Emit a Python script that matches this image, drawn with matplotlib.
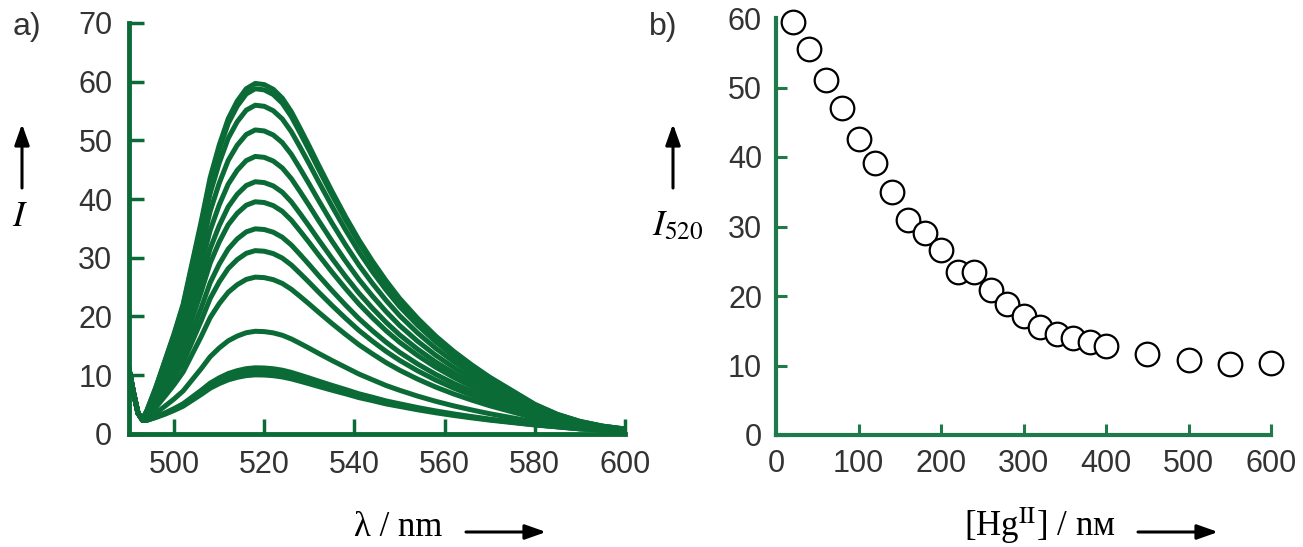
import numpy as np
import matplotlib
matplotlib.use('Agg')
import matplotlib.pyplot as plt
from matplotlib.patches import FancyArrowPatch

# panel a: emission spectra
wavelength = [490, 491, 492, 493, 494, 496, 498, 500, 502, 504, 506, 508, 510, 512,
              514, 516, 518, 520, 522, 524, 526, 528, 530, 532, 535, 538, 541, 544,
              547, 550, 554, 558, 562, 566, 570, 575, 580, 585, 590, 595, 600]
# outermost (strongest) spectrum
top_curve = [11, 7, 3.5, 2.5, 4, 8, 12.5, 17, 22, 29, 36, 43.5, 49, 53.5,
             56.5, 58.6, 59.5, 59.3, 58.5, 57, 54.7, 51.8, 48.8, 45.7, 41.2, 36.9, 32.9, 29.3,
             26.0, 23.0, 19.6, 16.6, 14.0, 11.7, 9.6, 7.3, 5.0, 3.3, 2.1, 1.3, 0.8]
# common floor (scatter spike + baseline) shared by all spectra
floor_curve = [11, 7, 3.5, 2.2, 2.0, 1.9, 1.8, 1.8, 1.8, 1.8, 1.8, 1.8, 1.8, 1.8,
               1.8, 1.8, 1.8, 1.8, 1.8, 1.8, 1.8, 1.8, 1.8, 1.8, 1.8, 1.8, 1.7, 1.7,
               1.6, 1.6, 1.5, 1.4, 1.3, 1.2, 1.1, 1.0, 0.9, 0.8, 0.6, 0.5, 0.4]
peak_heights = [59.5, 58.6, 55.8, 51.6, 47.1, 42.8, 39.4, 34.8, 31.1, 26.6, 17.4, 11.2, 10.6, 10.0]

# panel b: I520 vs [Hg]
hg_conc = [20, 40, 60, 80, 100, 120, 140, 160, 180, 200, 220, 240, 260, 280, 300,
           320, 340, 360, 380, 400, 450, 500, 550, 600]
i520 = [59.4, 55.5, 51.1, 47.0, 42.6, 39.1, 34.9, 30.9, 29.0, 26.6, 23.5, 23.5, 20.9,
        18.9, 17.1, 15.5, 14.6, 14.0, 13.4, 12.8, 11.6, 10.8, 10.2, 10.3]

green = '#0b6b36'
green_b = '#1f7a4b'
tick_color = '#333333'
W, H = 1303, 547

plt.rcParams['mathtext.fontset'] = 'stix'
plt.rcParams['font.family'] = ['Liberation Sans', 'DejaVu Sans']

fig = plt.figure(figsize=(W / 100, H / 100), dpi=100)

def px(x, y):
    return (x / W, 1 - y / H)

# ---- panel a
ax1 = fig.add_axes([129 / W, 1 - 433.7 / H, (625 - 129) / W, (433.7 - 23) / H])
wl = np.array(wavelength)
top = np.array(top_curve)
base = np.array(floor_curve)
i_pk = wavelength.index(520)
for p in peak_heights:
    s = (p - base[i_pk]) / (top[i_pk] - base[i_pk])
    ax1.plot(wl, base + (top - base) * s, color=green, lw=3.6, solid_joinstyle='round')
ax1.set_xlim(490, 600)
ax1.set_ylim(0, 70)
ax1.set_xticks(range(500, 601, 20))
ax1.set_yticks(range(0, 71, 10))
for sp in ['top', 'right']:
    ax1.spines[sp].set_visible(False)
for sp in ['left', 'bottom']:
    ax1.spines[sp].set_color(green)
    ax1.spines[sp].set_linewidth(3.5)
ax1.tick_params(direction='in', length=11, width=2.5, color=green,
                labelsize=22, labelcolor=tick_color, pad=12)

# ---- panel b
ax2 = fig.add_axes([776 / W, 1 - 435 / H, (1271 - 776) / W, (435 - 18) / H])
ax2.plot(hg_conc, i520, 'o', ms=17, mfc='white', mec='black', mew=1.6,
         linestyle='none', clip_on=False, zorder=5)
ax2.set_xlim(0, 600)
ax2.set_ylim(0, 60)
ax2.set_xticks(range(0, 601, 100))
ax2.set_yticks(range(0, 61, 10))
for sp in ['top', 'right']:
    ax2.spines[sp].set_visible(False)
for sp in ['left', 'bottom']:
    ax2.spines[sp].set_color(green_b)
    ax2.spines[sp].set_linewidth(3.0)
ax2.tick_params(direction='in', length=8, width=2.2, color=green_b,
                labelsize=22, labelcolor=tick_color, pad=10)
ax2.yaxis.get_major_ticks()[-1].tick1line.set_visible(False)

# panel letters
fig.text(*px(27, 27), 'a)', fontsize=23, color=tick_color, ha='center', va='center')
fig.text(*px(663, 27), 'b)', fontsize=23, color=tick_color, ha='center', va='center')

# axis labels with arrows
def arrow(p0, p1):
    fig.patches.append(FancyArrowPatch(px(*p0), px(*p1), transform=fig.transFigure,
                                       arrowstyle='-|>,head_length=0.9,head_width=0.32',
                                       mutation_scale=14, color='black', lw=2.2,
                                       shrinkA=0, shrinkB=0))

fig.text(*px(20, 216), '$I$', fontsize=26, ha='center', va='center')
arrow((22, 188), (22, 124))
fig.text(*px(678, 226), '$I_{520}$', fontsize=26, ha='center', va='center')
arrow((673, 188), (673, 124))

fig.text(*px(398, 528), 'λ / nm', fontsize=25, family='Liberation Serif',
         ha='center', va='center')
arrow((466, 532), (546, 532))
fig.text(*px(1040, 526), '[Hg$^{\\mathrm{II}}$] / nм', fontsize=25,
         family='Liberation Serif', ha='center', va='center')
arrow((1138, 532), (1218, 532))

fig.savefig('out.png', dpi=100)
